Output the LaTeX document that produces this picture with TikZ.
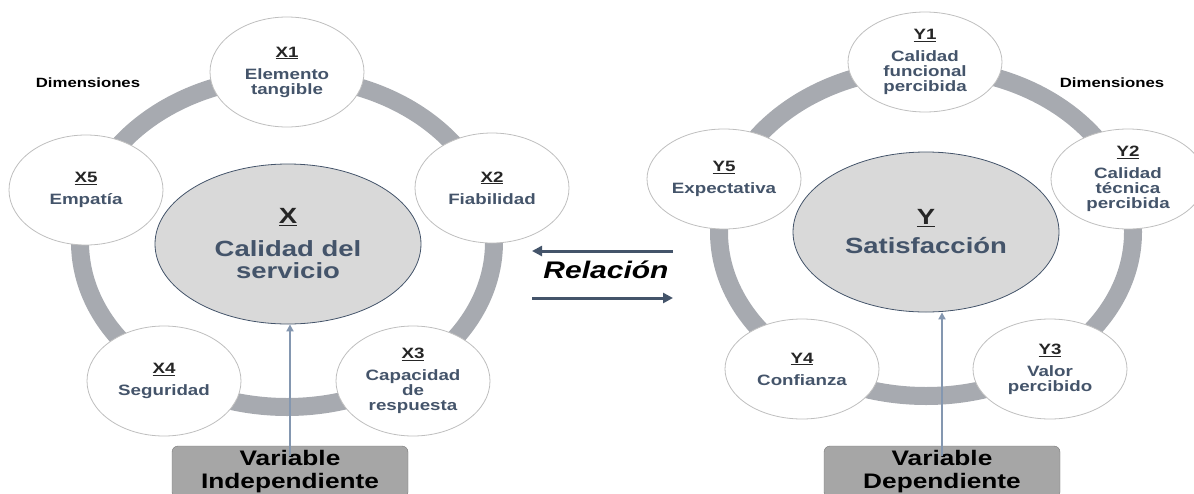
\documentclass[tikz,border=0pt]{standalone}
\usepackage{fontspec}
\setmainfont{Liberation Sans}[FakeStretch=1.25]
\usetikzlibrary{shapes.geometric}
\usetikzlibrary{arrows.meta}

\definecolor{slateblue}{RGB}{68,84,106}
\definecolor{ringgray}{RGB}{167,170,176}
\definecolor{rimgray}{RGB}{191,191,191}
\definecolor{coregray}{RGB}{217,217,217}
\definecolor{boxgray}{RGB}{166,166,166}
\definecolor{boxrim}{RGB}{120,120,120}
\definecolor{steelarrow}{RGB}{132,151,176}

\newcommand{\dimlabel}[1]{{\color{black!85}\underline{#1}}}

\tikzset{
  ring/.style={draw=ringgray, line width=18pt},
  dimnode/.style={ellipse, draw=rimgray, line width=0.8pt, fill=white,
    minimum width=154pt, minimum height=110pt, inner sep=0pt, align=center,
    text=slateblue, font=\bfseries\fontsize{15}{15}\selectfont},
  corenode/.style={ellipse, draw=slateblue, line width=0.8pt, fill=coregray,
    minimum width=266pt, minimum height=160pt, inner sep=0pt, align=center,
    text=slateblue, font=\bfseries\fontsize{22}{22}\selectfont},
  varbox/.style={draw=boxrim, fill=boxgray, rounded corners=6pt,
    minimum width=236pt, minimum height=52pt, align=center,
    font=\bfseries\fontsize{21}{23}\selectfont},
  feed/.style={draw=steelarrow, line width=1.8pt, -{Triangle[length=7pt,width=7pt]}},
  relarrow/.style={draw=slateblue, line width=3pt, -{Triangle[length=10pt,width=10pt]}},
  dimtext/.style={font=\bfseries\fontsize{13.4}{13.4}\selectfont},
}

\begin{document}
\begin{tikzpicture}[x=1pt,y=-1pt]
\clip (0,0) rectangle (1194,493);

% rings
\draw[ring] (287,242) ellipse [x radius=207pt, y radius=165pt];
\draw[ring] (926,232) ellipse [x radius=207pt, y radius=164pt];

% variable X
\node[corenode] (calidad) at (288,244) {\dimlabel{X}\\[11pt]Calidad del\\servicio};
\node[dimnode] (x1) at (287,72) {\dimlabel{X1}\\[7pt]Elemento\\tangible};
\node[dimnode] (x2) at (492,188) {\dimlabel{X2}\\[7pt]Fiabilidad};
\node[dimnode] (x3) at (413,381) {\dimlabel{X3}\\[7pt]Capacidad\\de\\respuesta};
\node[dimnode] (x4) at (164,381) {\dimlabel{X4}\\[7pt]Seguridad};
\node[dimnode] (x5) at (86,190) {\dimlabel{X5}\\[7pt]Empatía};
\node[dimtext] (dimx) at (88,83) {Dimensiones};

% variable Y
\node[corenode] (satisf) at (926,232) {\dimlabel{Y}\\[7pt]Satisfacción};
\node[dimnode, minimum height=100pt] (y1) at (925,62) {\dimlabel{Y1}\\[7pt]Calidad\\funcional\\percibida};
\node[dimnode, minimum height=100pt] (y2) at (1128,179) {\dimlabel{Y2}\\[7pt]Calidad\\técnica\\percibida};
\node[dimnode, minimum height=100pt] (y3) at (1050,369) {\dimlabel{Y3}\\[7pt]Valor\\percibido};
\node[dimnode, minimum height=100pt] (y4) at (802,369) {\dimlabel{Y4}\\[7pt]Confianza};
\node[dimnode, minimum height=100pt] (y5) at (724,179) {\dimlabel{Y5}\\[7pt]Expectativa};
\node[dimtext] (dimy) at (1112,83) {Dimensiones};

% boxes and feeds
\node[varbox] (vind) at (290,472) {Variable\\Independiente};
\node[varbox] (vdep) at (942,472) {Variable\\Dependiente};
\draw[feed] ([yshift=-10pt]vind.north) -- (vind.north |- calidad.south);
\draw[feed] ([yshift=-10pt]vdep.north) -- (vdep.north |- satisf.south);

% relation
\node[font=\bfseries\itshape\fontsize{24}{24}\selectfont] (relacion) at (606,270) {Relación};
\coordinate (relTL) at (532,251);
\coordinate (relTR) at (673,251);
\coordinate (relBL) at (532,298);
\coordinate (relBR) at (673,298);
\draw[relarrow] (relTR) -- (relTL);
\draw[relarrow] (relBL) -- (relBR);

\end{tikzpicture}
\end{document}
